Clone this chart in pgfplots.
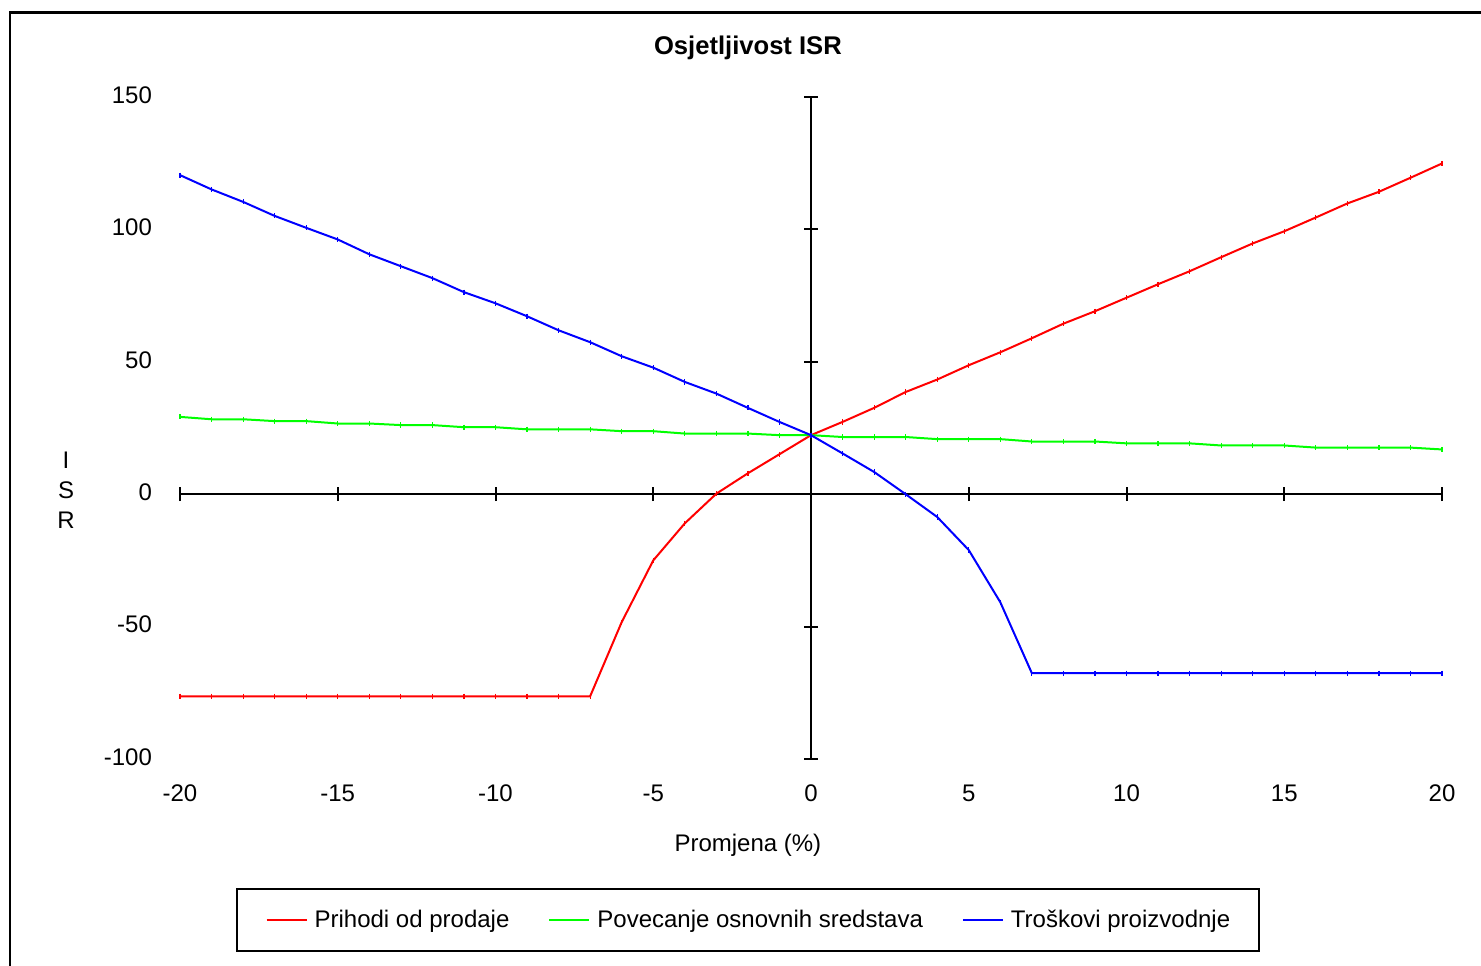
\documentclass[border=0pt]{standalone}
\usepackage{fontspec}
\setmainfont{Liberation Sans}
\usepackage{pgfplots}
\pgfplotsset{compat=1.18}

\pgfplotstableread{
x y
-20 -76.3
-19 -76.3
-18 -76.3
-17 -76.3
-16 -76.3
-15 -76.3
-14 -76.3
-13 -76.3
-12 -76.3
-11 -76.3
-10 -76.3
-9 -76.3
-8 -76.3
-7 -76.3
-6 -48.3
-5 -25.0
-4 -11.0
-3 0.2
-2 7.9
-1 15.1
0 22.3
1 27.3
2 32.6
3 38.6
4 43.3
5 48.7
6 53.6
7 58.9
8 64.4
9 69.1
10 74.2
11 79.3
12 84.2
13 89.5
14 94.7
15 99.3
16 104.5
17 109.8
18 114.2
19 119.5
20 124.9
}\prihodi

\pgfplotstableread{
x y
-20 29.2
-19 28.3
-18 28.3
-17 27.6
-16 27.6
-15 26.7
-14 26.7
-13 26.1
-12 26.1
-11 25.3
-10 25.3
-9 24.5
-8 24.5
-7 24.5
-6 23.8
-5 23.8
-4 22.9
-3 22.9
-2 22.9
-1 22.3
0 22.3
1 21.6
2 21.6
3 21.6
4 20.8
5 20.8
6 20.8
7 19.9
8 19.9
9 19.9
10 19.2
11 19.2
12 19.2
13 18.4
14 18.4
15 18.4
16 17.6
17 17.6
18 17.6
19 17.6
20 16.9
}\osnovna

\pgfplotstableread{
x y
-20 120.5
-19 115.1
-18 110.4
-17 105.1
-16 100.6
-15 96.2
-14 90.6
-13 86.1
-12 81.6
-11 76.3
-10 72.1
-9 67.2
-8 61.9
-7 57.4
-6 52.1
-5 47.8
-4 42.4
-3 38.0
-2 32.6
-1 27.3
0 22.3
1 15.4
2 8.4
3 0.0
4 -8.6
5 -21.1
6 -40.8
7 -67.6
8 -67.6
9 -67.6
10 -67.6
11 -67.6
12 -67.6
13 -67.6
14 -67.6
15 -67.6
16 -67.6
17 -67.6
18 -67.6
19 -67.6
20 -67.6
}\troskovi

\begin{document}
\begin{tikzpicture}
\useasboundingbox (0pt,0pt) rectangle (740.5pt,482.5pt);
\draw[line width=1.1pt] (5pt,476.2pt) rectangle (780pt,-30pt);

% middle axes with crossing ticks
\begin{axis}[
  at={(90pt,103pt)}, anchor=south west, scale only axis,
  width=631pt, height=331pt,
  xmin=-20, xmax=20, ymin=-100, ymax=150,
  axis lines=middle,
  axis line style={-, line width=1pt, black},
  xtick={-20,-15,...,20}, ytick={-100,-50,...,150},
  xticklabels={}, yticklabels={},
  tick align=center, major tick length=7pt,
  tick style={line width=1pt, black},
  clip=false,
]
\end{axis}

% data axis with labels
\begin{axis}[
  at={(90pt,103pt)}, anchor=south west, scale only axis,
  width=631pt, height=331pt,
  xmin=-20, xmax=20, ymin=-100, ymax=150,
  axis x line*=bottom, axis y line*=left,
  axis line style={draw=none},
  tick style={draw=none},
  xtick={-20,-15,...,20}, ytick={-100,-50,...,150},
  /pgf/number format/assume math mode=true,
  tick label style={font=\fontsize{12}{14}\selectfont},
  yticklabel style={xshift=-10.5pt, yshift=1pt},
  xticklabel style={yshift=-9.5pt},
  title={Osjetljivost ISR},
  title style={at={(axis description cs:0.45,1.056)}, anchor=center, font=\bfseries\fontsize{12.8}{15}\selectfont},
  xlabel={Promjena (\%)},
  xlabel style={at={(axis description cs:0.45,-0.13)}, anchor=center, font=\fontsize{12}{14}\selectfont},
  ylabel={I\\S\\R},
  ylabel style={at={(axis description cs:-0.0903,0.406)}, anchor=center, rotate=-90, align=center, font=\fontsize{12}{15}\selectfont},
  legend columns=3,
  legend style={at={(axis description cs:0.45,-0.243)}, anchor=center,
    draw=black, line width=1pt, inner xsep=14.5pt, inner ysep=10.5pt,
    font=\fontsize{12}{14}\selectfont,
    nodes={inner sep=0pt},
    /tikz/every odd column/.append style={column sep=3.5pt},
    /tikz/every even column/.append style={column sep=19.5pt}},
  legend image code/.code={\draw[#1] (0pt,0pt) -- (20pt,0pt);},
  clip=false,
]
\addplot[red, line width=1pt, mark=|, mark size=1.3pt, mark options={line width=0.6pt}] table[x=x,y=y] {\prihodi};
\addlegendentry{Prihodi od prodaje}
\addplot[green, line width=1pt, mark=|, mark size=1.3pt, mark options={line width=0.6pt}] table[x=x,y=y] {\osnovna};
\addlegendentry{Povecanje osnovnih sredstava}
\addplot[blue, line width=1pt, mark=|, mark size=1.3pt, mark options={line width=0.6pt}] table[x=x,y=y] {\troskovi};
\addlegendentry{Troškovi proizvodnje}
\end{axis}
\end{tikzpicture}
\end{document}
